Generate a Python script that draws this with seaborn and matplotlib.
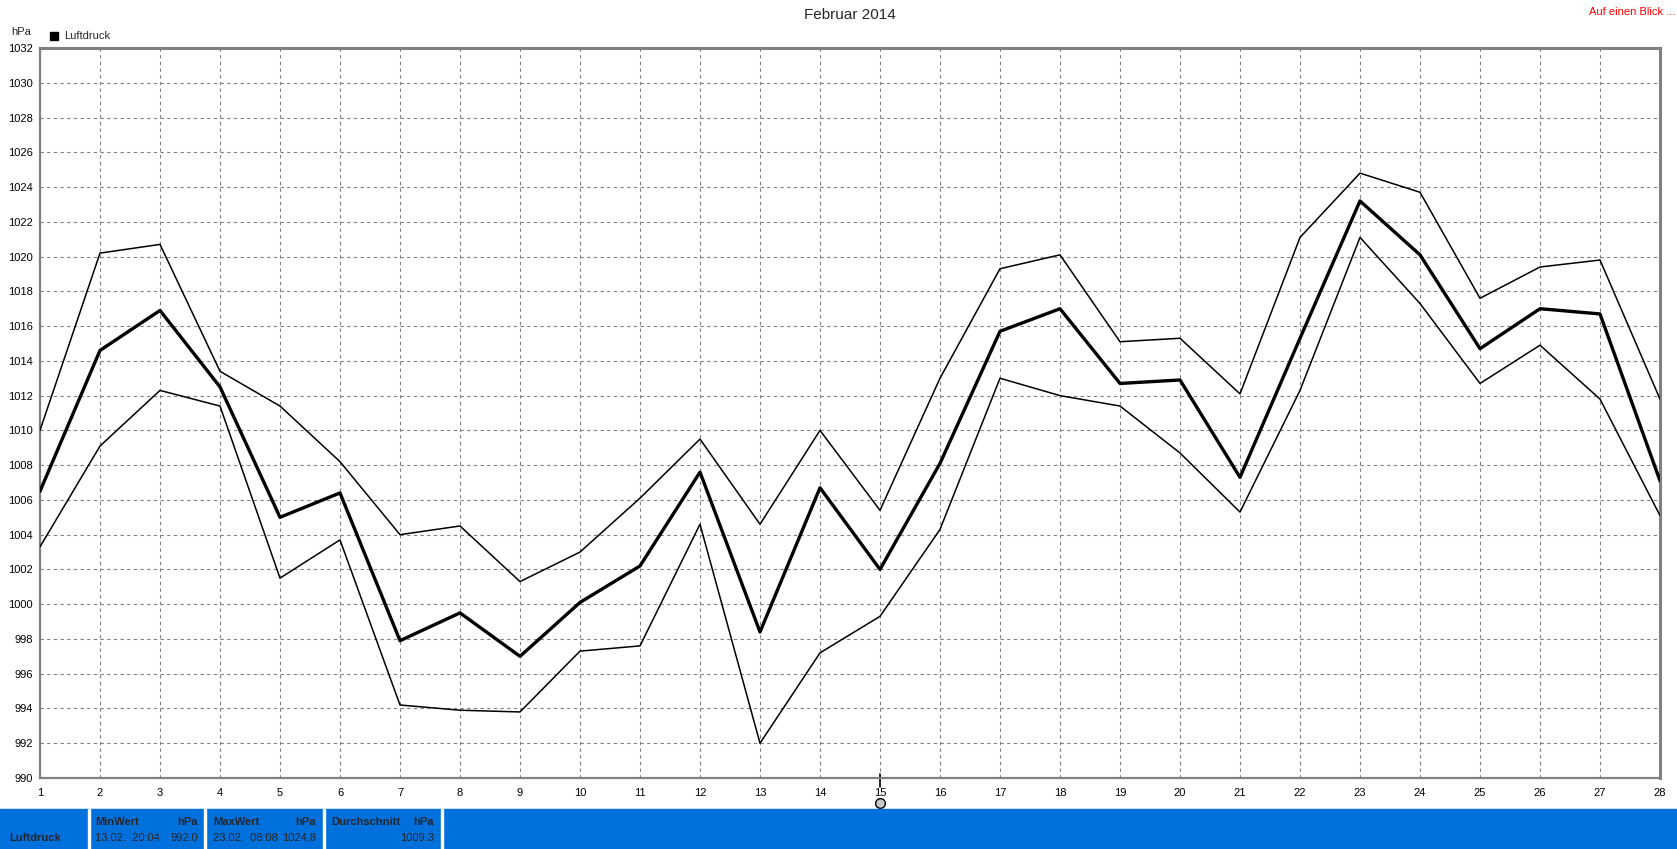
import pandas as pd
import matplotlib.pyplot as plt
import matplotlib.patches as mpatches
import matplotlib.transforms as mtransforms
import seaborn as sns

# -------------------------------
# Data: daily air pressure, February 2014 (hPa)
# -------------------------------
days = list(range(1, 29))
p_max = [1010.0, 1020.2, 1020.7, 1013.4, 1011.4, 1008.2, 1004.0, 1004.5, 1001.3, 1003.0,
         1006.1, 1009.5, 1004.6, 1010.0, 1005.4, 1013.0, 1019.3, 1020.1, 1015.1, 1015.3,
         1012.1, 1021.1, 1024.8, 1023.7, 1017.6, 1019.4, 1019.8, 1011.8]
p_mean = [1006.5, 1014.6, 1016.9, 1012.5, 1005.0, 1006.4, 997.9, 999.5, 997.0, 1000.1,
          1002.2, 1007.6, 998.4, 1006.7, 1002.0, 1008.1, 1015.7, 1017.0, 1012.7, 1012.9,
          1007.3, 1015.3, 1023.2, 1020.1, 1014.7, 1017.0, 1016.7, 1007.1]
p_min = [1003.3, 1009.1, 1012.3, 1011.4, 1001.5, 1003.7, 994.2, 993.9, 993.8, 997.3,
         997.6, 1004.6, 992.0, 997.2, 999.3, 1004.3, 1013.0, 1012.0, 1011.4, 1008.7,
         1005.3, 1012.3, 1021.1, 1017.3, 1012.7, 1014.9, 1011.8, 1005.1]
y_ticks = list(range(990, 1033, 2))

summary_min = ("13.02.  20:04", "992.0")
summary_max = ("23.02.  08:08", "1024.8")
summary_avg = "1009.3"

df = pd.DataFrame({"Tag": days, "max": p_max, "mittel": p_mean, "min": p_min})
long_df = df.melt(id_vars="Tag", var_name="Reihe", value_name="hPa")

# -------------------------------
# Figure
# -------------------------------
sns.set_style("white")
plt.rcParams['font.family'] = ['Liberation Sans', 'DejaVu Sans']

W, H = 1677, 849
fig = plt.figure(figsize=(W / 100, H / 100), dpi=100)
ax = fig.add_axes([40 / W, 1 - 778 / H, 1620 / W, 730 / H])

sns.lineplot(data=long_df, x="Tag", y="hPa", hue="Reihe", size="Reihe",
             palette={"max": "black", "mittel": "black", "min": "black"},
             sizes={"max": 1.1, "mittel": 2.4, "min": 1.1},
             legend=False, ax=ax, zorder=3)

ax.set_xlim(1, 28)
ax.set_ylim(990, 1032)
ax.set_xticks(days)
ax.set_yticks(y_ticks)
ax.set_xlabel("")
ax.set_ylabel("")
ax.grid(True, color="#808080", linestyle=(0, (3, 3)), linewidth=0.8)
ax.tick_params(axis="both", labelsize=8, length=3.5, width=0.8, color="#808080",
               labelcolor="black", direction="out")
ax.tick_params(axis="x", pad=4)
ax.tick_params(axis="y", pad=1.5)
for side, lw in [("left", 1.6), ("bottom", 1.6), ("top", 2.2), ("right", 2.2)]:
    ax.spines[side].set_color("#808080")
    ax.spines[side].set_linewidth(lw)
    ax.spines[side].set_visible(True)

# marker at day 15
trans = mtransforms.blended_transform_factory(ax.transData, ax.transAxes)
ax.plot([15, 15], [0.006, -0.012], color="black", lw=1.2, transform=trans, clip_on=False)
ax.plot([15], [-0.034], marker="o", markersize=7, markerfacecolor="#c8c8c8",
        markeredgecolor="black", markeredgewidth=1, transform=trans, clip_on=False)

# titles and labels
fig.text(850 / W, 1 - 15 / H, "Februar 2014", ha="center", va="center", fontsize=11)
fig.text(1675 / W, 1 - 12 / H, "Auf einen Blick ...", ha="right", va="center",
         fontsize=8, color="red")
fig.text(11 / W, 1 - 32 / H, "hPa", ha="left", va="center", fontsize=8)
fig.patches.append(mpatches.Rectangle((50 / W, 1 - 40 / H), 8 / W, 8 / H,
                                      transform=fig.transFigure, color="black"))
fig.text(64 / W, 1 - 36 / H, "Luftdruck", ha="left", va="center", fontsize=8)

# -------------------------------
# Bottom summary bar
# -------------------------------
blue = "#0070dd"
fig.patches.append(mpatches.Rectangle((0, 0), 1, 40 / H, transform=fig.transFigure,
                                      color=blue, zorder=0))
for xs in [88, 204, 323, 441]:
    fig.patches.append(mpatches.Rectangle((xs / W, 0), 2 / W, 40 / H,
                                          transform=fig.transFigure, color="white"))

row1 = 1 - 822 / H
row2 = 1 - 838 / H
fig.text(9 / W, row2, "Luftdruck", ha="left", va="center", fontsize=8, fontweight="bold")
fig.text(95 / W, row1, "MinWert", ha="left", va="center", fontsize=8, fontweight="bold")
fig.text(198 / W, row1, "hPa", ha="right", va="center", fontsize=8, fontweight="bold")
fig.text(95 / W, row2, summary_min[0], ha="left", va="center", fontsize=8)
fig.text(198 / W, row2, summary_min[1], ha="right", va="center", fontsize=8)
fig.text(213 / W, row1, "MaxWert", ha="left", va="center", fontsize=8, fontweight="bold")
fig.text(316 / W, row1, "hPa", ha="right", va="center", fontsize=8, fontweight="bold")
fig.text(213 / W, row2, summary_max[0], ha="left", va="center", fontsize=8)
fig.text(316 / W, row2, summary_max[1], ha="right", va="center", fontsize=8)
fig.text(331 / W, row1, "Durchschnitt", ha="left", va="center", fontsize=8, fontweight="bold")
fig.text(434 / W, row1, "hPa", ha="right", va="center", fontsize=8, fontweight="bold")
fig.text(434 / W, row2, summary_avg, ha="right", va="center", fontsize=8)

fig.savefig("out.png", dpi=100)
